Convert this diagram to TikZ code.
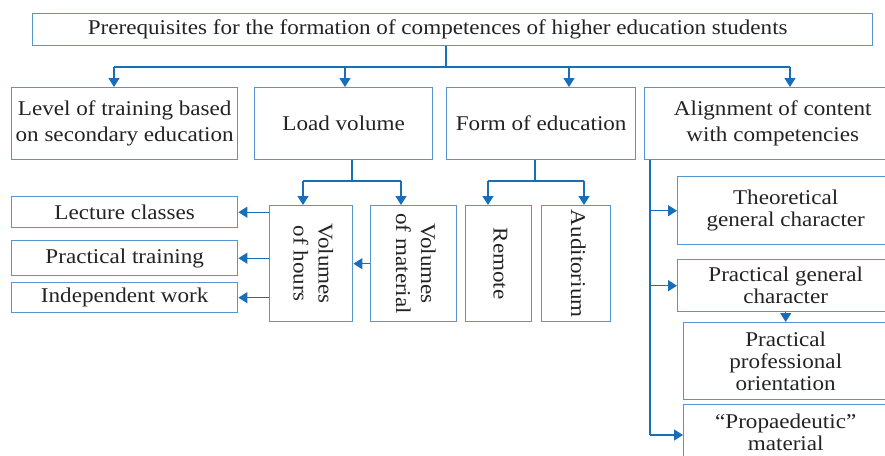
\documentclass[tikz,border=0pt]{standalone}
\usepackage{fontspec}
\setmainfont[FakeStretch=1.1]{Liberation Serif}
\usetikzlibrary{arrows.meta}
\definecolor{boxblue}{RGB}{85,150,210}
\definecolor{lineblue}{RGB}{25,110,185}
\definecolor{txt}{RGB}{35,35,35}
\newcommand{\vlabel}[1]{\rotatebox[origin=c]{-90}{\begin{tabular}{@{}c@{}}#1\end{tabular}}}

\begin{document}
\begin{tikzpicture}[x=1pt, y=-1pt, line width=1.4pt]
\tikzstyle{every node} = [draw=boxblue, rectangle, text=txt, align=center, inner sep=0pt, anchor=north west, font=\fontsize{21}{22}\selectfont]
\tikzstyle{link} = [draw=lineblue, -{Triangle[width=11pt,length=9pt]}]
\useasboundingbox (0,0) rectangle (885,455);
\clip (0,0) rectangle (885,455);
% top box
\node[minimum width=840, minimum height=32] (title) at (32,13) {Prerequisites for the formation of competences of higher education students\hspace*{30pt}};
% first row
\node[minimum width=226, minimum height=72, font=\fontsize{21}{26}\selectfont] (level) at (11,87) {Level of training based\\on secondary education};
\node[minimum width=178, minimum height=72] (load) at (254,87) {Load volume};
\node[minimum width=189, minimum height=72] (form) at (446,87) {Form of education};
\node[minimum width=256, minimum height=72, font=\fontsize{21}{26}\selectfont] (align) at (644,87) {Alignment of content\\with competencies};
\coordinate (split) at (446,67);
\coordinate (blevel) at (114,67);
\coordinate (bload) at (345,67);
\coordinate (bform) at (569,67);
\coordinate (balign) at (790,67);
\draw[lineblue] (split |- title.south) -- (split);
\draw[lineblue] (blevel) -- (balign);
\foreach \n in {level, load, form, align}
  \draw[link] (b\n) -- (b\n |- \n.north);
% load volume
\tikzstyle{every node} += [font=\fontsize{21}{25}\selectfont]
\node[minimum width=83, minimum height=116] (hours) at (269,205) {\vlabel{Volumes\\of hours}};
\node[minimum width=86, minimum height=116] (material) at (370,205) {\vlabel{Volumes\\of material}};
\node[minimum width=226, minimum height=31] (lecture) at (11,196) {Lecture classes};
\node[minimum width=226, minimum height=35] (practice) at (11,240) {Practical training};
\node[minimum width=226, minimum height=30] (selfwork) at (11,282) {Independent work};
\coordinate (lsplit) at (352,181);
\coordinate (lh) at (303,181);
\coordinate (lm) at (401,181);
\draw[lineblue] (lsplit |- load.south) -- (lsplit);
\draw[lineblue] (lh) -- (lm);
\draw[link] (lh) -- (lh |- hours.north);
\draw[link] (lm) -- (lm |- material.north);
\draw[link] (material.west) -- (hours.east);
\foreach \n in {lecture, practice, selfwork}
  \draw[link] (hours.west |- \n.east) -- (\n.east);
% form of education
\node[minimum width=66, minimum height=116] (remote) at (465,205) {\vlabel{Remote}};
\node[minimum width=69, minimum height=116] (auditorium) at (541,205) {\vlabel{Auditorium}};
\coordinate (fsplit) at (535,181);
\coordinate (fr) at (488,181);
\coordinate (fa) at (584,181);
\draw[lineblue] (fsplit |- form.south) -- (fsplit);
\draw[lineblue] (fr) -- (fa);
\draw[link] (fr) -- (fr |- remote.north);
\draw[link] (fa) -- (fa |- auditorium.north);
% alignment of content
\tikzstyle{every node} += [font=\fontsize{21}{22}\selectfont]
\node[minimum width=216, minimum height=68] (theory) at (677,176) {Theoretical\\general character};
\node[minimum width=216, minimum height=52] (pgeneral) at (677,259) {Practical general\\character};
\node[minimum width=204, minimum height=77] (pprof) at (683,322) {Practical\\professional\\orientation};
\node[minimum width=204, minimum height=55] (propaed) at (683,404) {``Propaedeutic''\\material};
\coordinate (atrunk) at (650,435);
\draw[lineblue] (atrunk |- align.south) -- (atrunk);
\draw[link] (atrunk |- theory.west) -- (theory.west);
\draw[link] (atrunk |- pgeneral.west) -- (pgeneral.west);
\draw[link] (atrunk) -- (atrunk -| propaed.west);
\draw[link] (pgeneral.south) -- (pgeneral.south |- pprof.north);
\end{tikzpicture}
\end{document}
